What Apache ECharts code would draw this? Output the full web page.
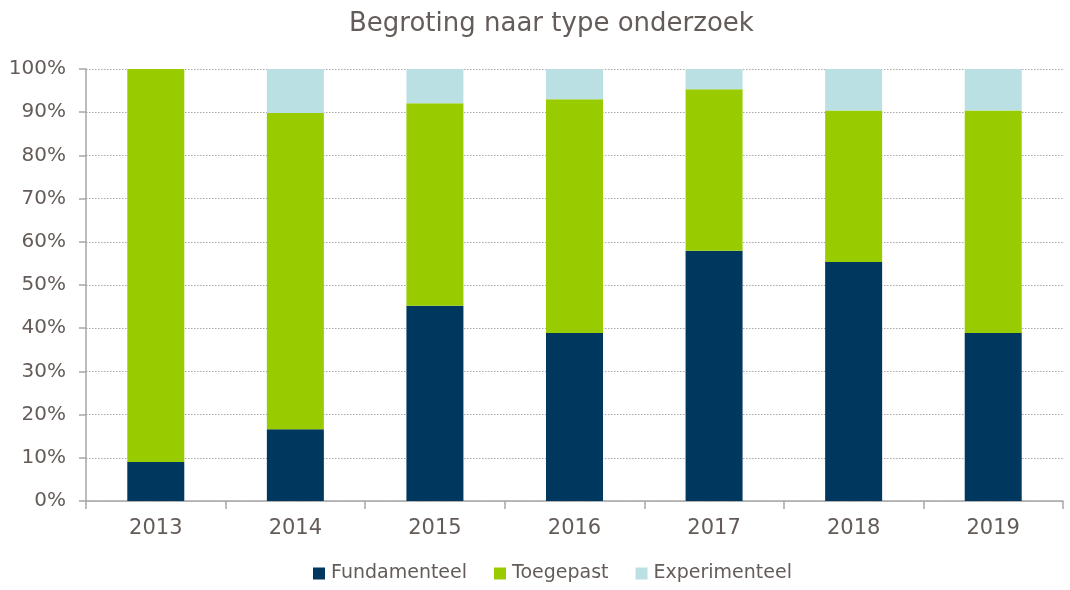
<!DOCTYPE html>
<html>
<head>
<meta charset="utf-8">
<script src="https://cdn.jsdelivr.net/npm/echarts@6/dist/echarts.min.js"></script>
<style>
  html, body { margin: 0; padding: 0; background: #fff; }
  #chart { width: 1070px; height: 590px; }
</style>
</head>
<body>
<div id="chart"></div>
<script>
const years = ['2013', '2014', '2015', '2016', '2017', '2018', '2019']
const fundamenteel = [9.0, 16.6, 45.2, 38.9, 57.9, 55.3, 38.9]
const toegepast = [91.0, 73.2, 46.9, 54.1, 37.4, 35.1, 51.5]
const experimenteel = [0, 10.2, 7.9, 7.0, 4.7, 9.6, 9.6]

const textColor = '#645c59'
const font = 'DejaVu Sans, Verdana, sans-serif'

const myChart = echarts.init(document.getElementById('chart'))

const seriesDefs = [
  { name: 'Fundamenteel', data: fundamenteel, color: '#00375f' },
  { name: 'Toegepast', data: toegepast, color: '#99cc00' },
  { name: 'Experimenteel', data: experimenteel, color: '#bbe0e3' },
]

const option = {
  animation: false,
  textStyle: { fontFamily: font, color: textColor },
  title: {
    text: 'Begroting naar type onderzoek',
    left: 344,
    top: 6,
    textStyle: { fontFamily: font, fontSize: 26, fontWeight: 'normal', color: textColor },
  },
  legend: {
    bottom: 2,
    left: 308,
    itemWidth: 12,
    itemHeight: 12,
    itemGap: 27,
    icon: 'rect',
    textStyle: { fontFamily: font, fontSize: 19, color: textColor, padding: [0, 0, 0, 1] },
    data: seriesDefs.map((s) => s.name),
  },
  grid: { left: 86, right: 7, top: 69, bottom: 89, containLabel: false },
  xAxis: {
    type: 'category',
    data: years,
    axisLine: { lineStyle: { color: '#a6a6a6', width: 1.5 } },
    axisTick: { show: true, length: 8, lineStyle: { color: '#a6a6a6', width: 1.5 } },
    axisLabel: { fontFamily: font, fontSize: 21, color: textColor, margin: 17 },
  },
  yAxis: {
    type: 'value',
    min: 0,
    max: 100,
    interval: 10,
    axisLine: { show: true, lineStyle: { color: '#a6a6a6', width: 1.5 } },
    axisTick: { show: true, length: 7, lineStyle: { color: '#a6a6a6', width: 1.5 } },
    axisLabel: { fontFamily: font, fontSize: 20, color: textColor, margin: 20, formatter: '{value}%' },
    splitLine: { show: true, lineStyle: { color: '#a8a8a8', type: [1.5, 1.5], width: 1.2 } },
  },
  series: seriesDefs.map((s) => ({
    name: s.name,
    type: 'bar',
    stack: 'total',
    data: s.data,
    barWidth: 57,
    itemStyle: { color: s.color },
  })),
}

myChart.setOption(option)
</script>
</body>
</html>
